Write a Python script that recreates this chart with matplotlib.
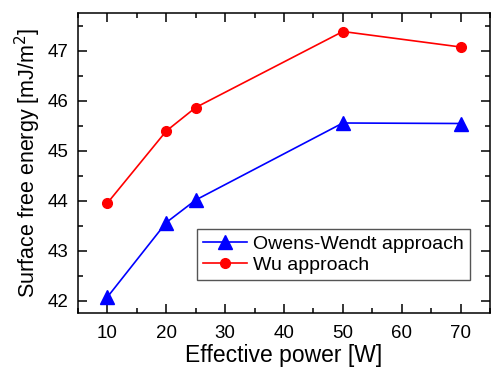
import matplotlib
matplotlib.use("Agg")
import matplotlib.pyplot as plt
from matplotlib.ticker import MultipleLocator

plt.rcParams["font.family"] = ["Liberation Sans", "DejaVu Sans"]

power = [10, 20, 25, 50, 70]
owens_wendt = [42.07, 43.56, 44.01, 45.55, 45.54]
wu = [43.95, 45.39, 45.86, 47.38, 47.07]

fig = plt.figure(figsize=(4.92, 3.70), dpi=100)
ax = fig.add_axes([78 / 492, 1 - 313 / 370, 412 / 492, 300 / 370])

ax.plot(power, owens_wendt, color="blue", marker="^", markersize=9.5,
        linewidth=1.2, label="Owens-Wendt approach")
ax.plot(power, wu, color="red", marker="o", markersize=7,
        linewidth=1.2, label="Wu approach")

ax.set_xlim(5, 75)
ax.set_ylim(41.75, 47.75)
ax.xaxis.set_major_locator(MultipleLocator(10))
ax.xaxis.set_minor_locator(MultipleLocator(5))
ax.yaxis.set_major_locator(MultipleLocator(1))
ax.yaxis.set_minor_locator(MultipleLocator(0.5))
ax.tick_params(which="both", direction="in", top=True, right=True,
               labelsize=13.5, width=1.1)
ax.tick_params(which="major", length=6.5)
ax.tick_params(axis="x", which="major", pad=9)
ax.tick_params(axis="y", which="major", pad=7)
ax.tick_params(which="minor", length=3.5)
for s in ax.spines.values():
    s.set_linewidth(1.1)

ax.set_xlabel("Effective power [W]", fontsize=16.5, labelpad=1)
ax.set_ylabel("Surface free energy [mJ/m$^2$]", fontsize=15.5, labelpad=3)

leg = ax.legend(loc="lower right", bbox_to_anchor=(0.951, 0.11), fontsize=14,
                fancybox=False, framealpha=1, edgecolor="#555555",
                borderpad=0.3, labelspacing=0.2, handlelength=2.3,
                handletextpad=0.3, borderaxespad=0)
leg.get_frame().set_linewidth(1.0)

fig.savefig("out.png", dpi=100)
